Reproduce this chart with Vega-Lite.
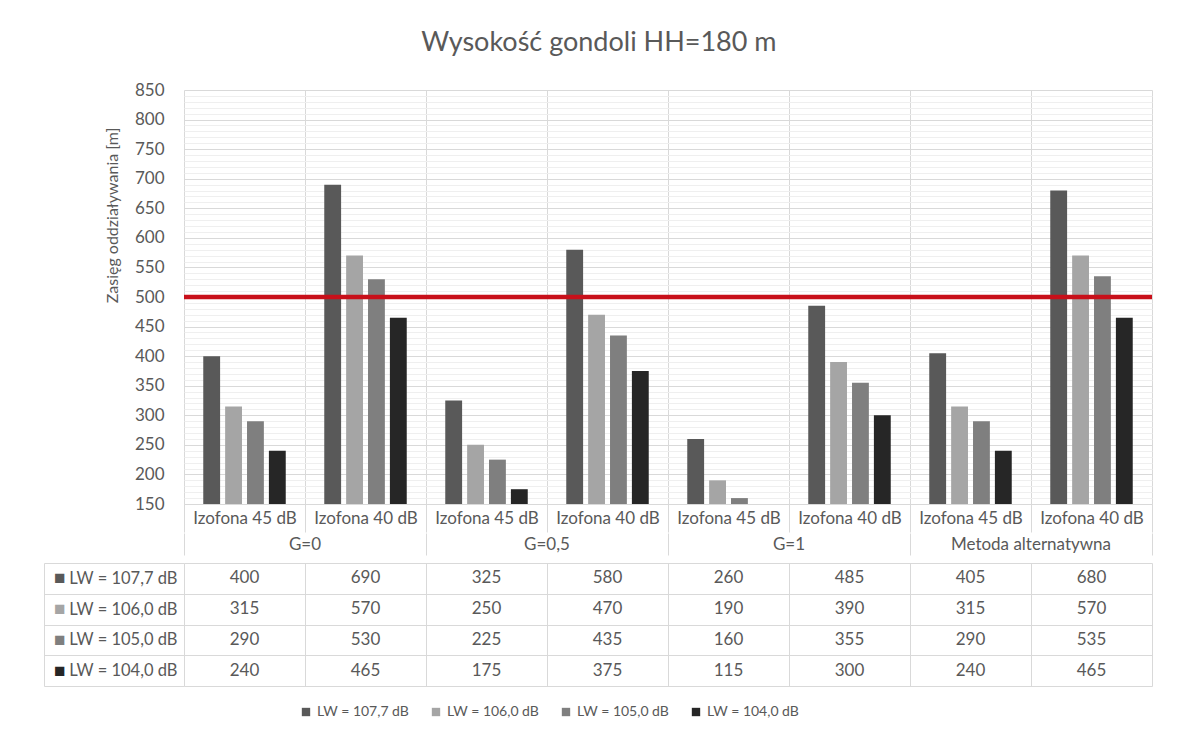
{
  "$schema": "https://vega.github.io/schema/vega-lite/v6.json",
  "background": "white",
  "padding": {"left": 43, "top": 29, "right": 10, "bottom": 5},
  "spacing": 0,
  "config": {
    "font": "Lato",
    "view": {"stroke": null},
    "axis": {"labelFont": "Lato", "titleFont": "Lato", "labelColor": "#595959", "titleColor": "#595959"},
    "legend": {"labelFont": "Lato"},
    "title": {"font": "Lato"}
  },
  "title": {"text": "Wysokość gondoli HH=180 m", "fontSize": 27, "fontWeight": "normal", "color": "#595959", "anchor": "middle", "offset": 24},
  "datasets": {
    "main": [
      {"grp": "G=0", "key": "G=0 / Izofona 45 dB", "series": "LW = 107,7 dB", "val": 400},
      {"grp": "G=0", "key": "G=0 / Izofona 45 dB", "series": "LW = 106,0 dB", "val": 315},
      {"grp": "G=0", "key": "G=0 / Izofona 45 dB", "series": "LW = 105,0 dB", "val": 290},
      {"grp": "G=0", "key": "G=0 / Izofona 45 dB", "series": "LW = 104,0 dB", "val": 240},
      {"grp": "G=0", "key": "G=0 / Izofona 40 dB", "series": "LW = 107,7 dB", "val": 690},
      {"grp": "G=0", "key": "G=0 / Izofona 40 dB", "series": "LW = 106,0 dB", "val": 570},
      {"grp": "G=0", "key": "G=0 / Izofona 40 dB", "series": "LW = 105,0 dB", "val": 530},
      {"grp": "G=0", "key": "G=0 / Izofona 40 dB", "series": "LW = 104,0 dB", "val": 465},
      {"grp": "G=0,5", "key": "G=0,5 / Izofona 45 dB", "series": "LW = 107,7 dB", "val": 325},
      {"grp": "G=0,5", "key": "G=0,5 / Izofona 45 dB", "series": "LW = 106,0 dB", "val": 250},
      {"grp": "G=0,5", "key": "G=0,5 / Izofona 45 dB", "series": "LW = 105,0 dB", "val": 225},
      {"grp": "G=0,5", "key": "G=0,5 / Izofona 45 dB", "series": "LW = 104,0 dB", "val": 175},
      {"grp": "G=0,5", "key": "G=0,5 / Izofona 40 dB", "series": "LW = 107,7 dB", "val": 580},
      {"grp": "G=0,5", "key": "G=0,5 / Izofona 40 dB", "series": "LW = 106,0 dB", "val": 470},
      {"grp": "G=0,5", "key": "G=0,5 / Izofona 40 dB", "series": "LW = 105,0 dB", "val": 435},
      {"grp": "G=0,5", "key": "G=0,5 / Izofona 40 dB", "series": "LW = 104,0 dB", "val": 375},
      {"grp": "G=1", "key": "G=1 / Izofona 45 dB", "series": "LW = 107,7 dB", "val": 260},
      {"grp": "G=1", "key": "G=1 / Izofona 45 dB", "series": "LW = 106,0 dB", "val": 190},
      {"grp": "G=1", "key": "G=1 / Izofona 45 dB", "series": "LW = 105,0 dB", "val": 160},
      {"grp": "G=1", "key": "G=1 / Izofona 45 dB", "series": "LW = 104,0 dB", "val": 115},
      {"grp": "G=1", "key": "G=1 / Izofona 40 dB", "series": "LW = 107,7 dB", "val": 485},
      {"grp": "G=1", "key": "G=1 / Izofona 40 dB", "series": "LW = 106,0 dB", "val": 390},
      {"grp": "G=1", "key": "G=1 / Izofona 40 dB", "series": "LW = 105,0 dB", "val": 355},
      {"grp": "G=1", "key": "G=1 / Izofona 40 dB", "series": "LW = 104,0 dB", "val": 300},
      {"grp": "Metoda alternatywna", "key": "Metoda alternatywna / Izofona 45 dB", "series": "LW = 107,7 dB", "val": 405},
      {"grp": "Metoda alternatywna", "key": "Metoda alternatywna / Izofona 45 dB", "series": "LW = 106,0 dB", "val": 315},
      {"grp": "Metoda alternatywna", "key": "Metoda alternatywna / Izofona 45 dB", "series": "LW = 105,0 dB", "val": 290},
      {"grp": "Metoda alternatywna", "key": "Metoda alternatywna / Izofona 45 dB", "series": "LW = 104,0 dB", "val": 240},
      {"grp": "Metoda alternatywna", "key": "Metoda alternatywna / Izofona 40 dB", "series": "LW = 107,7 dB", "val": 680},
      {"grp": "Metoda alternatywna", "key": "Metoda alternatywna / Izofona 40 dB", "series": "LW = 106,0 dB", "val": 570},
      {"grp": "Metoda alternatywna", "key": "Metoda alternatywna / Izofona 40 dB", "series": "LW = 105,0 dB", "val": 535},
      {"grp": "Metoda alternatywna", "key": "Metoda alternatywna / Izofona 40 dB", "series": "LW = 104,0 dB", "val": 465}
    ],
    "limit": [{"limit": 500}]
  },
  "resolve": {"scale": {"x": "independent", "y": "independent"}},
  "vconcat": [
    {
      "width": 968,
      "height": 414,
      "resolve": {"axis": {"y": "independent"}},
      "layer": [
        {
          "data": {"name": "main"},
          "mark": {"type": "bar", "clip": true},
          "encoding": {
            "x": {
              "field": "key", "type": "nominal", "sort": null,
              "scale": {"paddingInner": 0, "paddingOuter": 0},
              "axis": {
                "title": null, "labelAngle": 0, "labelExpr": "split(datum.value, ' / ')[1]",
                "tickBand": "extent", "grid": true, "gridColor": "#d9d9d9",
                "ticks": true, "tickSize": 28, "tickColor": "#d9d9d9",
                "domain": true, "domainColor": "#d9d9d9",
                "labelPadding": -22, "labelFontSize": 17
              }
            },
            "xOffset": {"field": "series", "type": "nominal", "sort": null, "scale": {"paddingInner": 0.23, "paddingOuter": 0.88}},
            "y": {
              "field": "val", "type": "quantitative",
              "scale": {"domain": [150, 850], "nice": false, "zero": false},
              "axis": {
                "values": [150, 200, 250, 300, 350, 400, 450, 500, 550, 600, 650, 700, 750, 800, 850],
                "domain": false, "ticks": false, "grid": true, "gridColor": "#d9d9d9",
                "labelPadding": 20, "labelFontSize": 17,
                "title": "Zasięg oddziaływania [m]", "titleFontSize": 16, "titleFontWeight": "normal",
                "titleX": -72, "titleY": 125, "titleAngle": -90, "titleBaseline": "middle", "titleAlign": "center"
              }
            },
            "y2": {"datum": 150},
            "color": {
              "field": "series", "type": "nominal", "sort": null,
              "scale": {"range": ["#595959", "#a5a5a5", "#7f7f7f", "#262626"]},
              "legend": {
                "title": null, "orient": "none", "legendX": 115, "legendY": 615, "direction": "horizontal",
                "symbolType": "square", "symbolSize": 70, "labelFontSize": 14, "labelColor": "#595959",
                "columnPadding": 19, "symbolStrokeWidth": 0
              }
            }
          }
        },
        {
          "data": {"name": "limit"},
          "mark": {"type": "rule", "color": "#c8101a", "strokeWidth": 4.5},
          "encoding": {
            "y": {
              "field": "limit", "type": "quantitative",
              "axis": {
                "orient": "left", "values": [160, 170, 180, 190, 210, 220, 230, 240, 260, 270, 280, 290, 310, 320, 330, 340, 360, 370, 380, 390, 410, 420, 430, 440, 460, 470, 480, 490, 510, 520, 530, 540, 560, 570, 580, 590, 610, 620, 630, 640, 660, 670, 680, 690, 710, 720, 730, 740, 760, 770, 780, 790, 810, 820, 830, 840],
                "grid": true, "gridColor": "#efefef", "labels": false, "ticks": false, "domain": false, "title": null
              }
            }
          }
        }
      ]
    },
    {
      "width": 968,
      "height": 22,
      "data": {"name": "main"},
      "transform": [{"filter": "datum.series === 'LW = 107,7 dB' && test(/45 dB/, datum.key)"}],
      "mark": {"type": "text", "fontSize": 17, "color": "#595959", "font": "Lato", "dy": 1},
      "encoding": {
        "x": {
          "field": "grp", "type": "nominal", "sort": null,
          "scale": {"paddingInner": 0, "paddingOuter": 0},
          "axis": {"title": null, "labels": false, "ticks": false, "domain": false, "grid": true, "gridColor": "#d9d9d9", "tickBand": "extent"}
        },
        "text": {"field": "grp"}
      }
    },
    {
      "width": 968,
      "height": 123,
      "data": {"name": "main"},
      "resolve": {"axis": {"y": "independent"}},
      "layer": [
        {
          "mark": {"type": "text", "fontSize": 17, "color": "#595959", "font": "Lato"},
          "encoding": {
            "x": {
              "field": "key", "type": "nominal", "sort": null,
              "scale": {"paddingInner": 0, "paddingOuter": 0},
              "axis": {"title": null, "labels": false, "ticks": false, "domain": false, "grid": true, "gridColor": "#d9d9d9", "tickBand": "extent"}
            },
            "y": {
              "field": "series", "type": "nominal", "sort": null,
              "scale": {"paddingInner": 0, "paddingOuter": 0},
              "axis": {
                "title": null, "domain": false, "grid": true, "gridColor": "#d9d9d9", "tickBand": "extent",
                "ticks": true, "tickSize": 140, "tickColor": "#d9d9d9",
                "labelPadding": -133, "labelFontSize": 16.5
              }
            },
            "text": {"field": "val", "type": "quantitative"}
          }
        },
        {
          "mark": {"type": "text", "opacity": 0},
          "encoding": {
            "x": {"field": "key", "type": "nominal", "sort": null},
            "y": {
              "field": "series", "type": "nominal", "sort": null,
              "axis": {
                "orient": "left", "offset": 140, "title": null, "domain": true, "domainColor": "#d9d9d9",
                "ticks": false, "grid": false, "labelExpr": "'■'", "labelPadding": -21, "labelFontSize": 19,
                "labelColor": {
                  "condition": [
                    {"test": "datum.value === 'LW = 107,7 dB'", "value": "#595959"},
                    {"test": "datum.value === 'LW = 106,0 dB'", "value": "#a5a5a5"},
                    {"test": "datum.value === 'LW = 105,0 dB'", "value": "#7f7f7f"}
                  ],
                  "value": "#262626"
                }
              }
            },
            "text": {"field": "val", "type": "quantitative"}
          }
        }
      ]
    }
  ]
}
